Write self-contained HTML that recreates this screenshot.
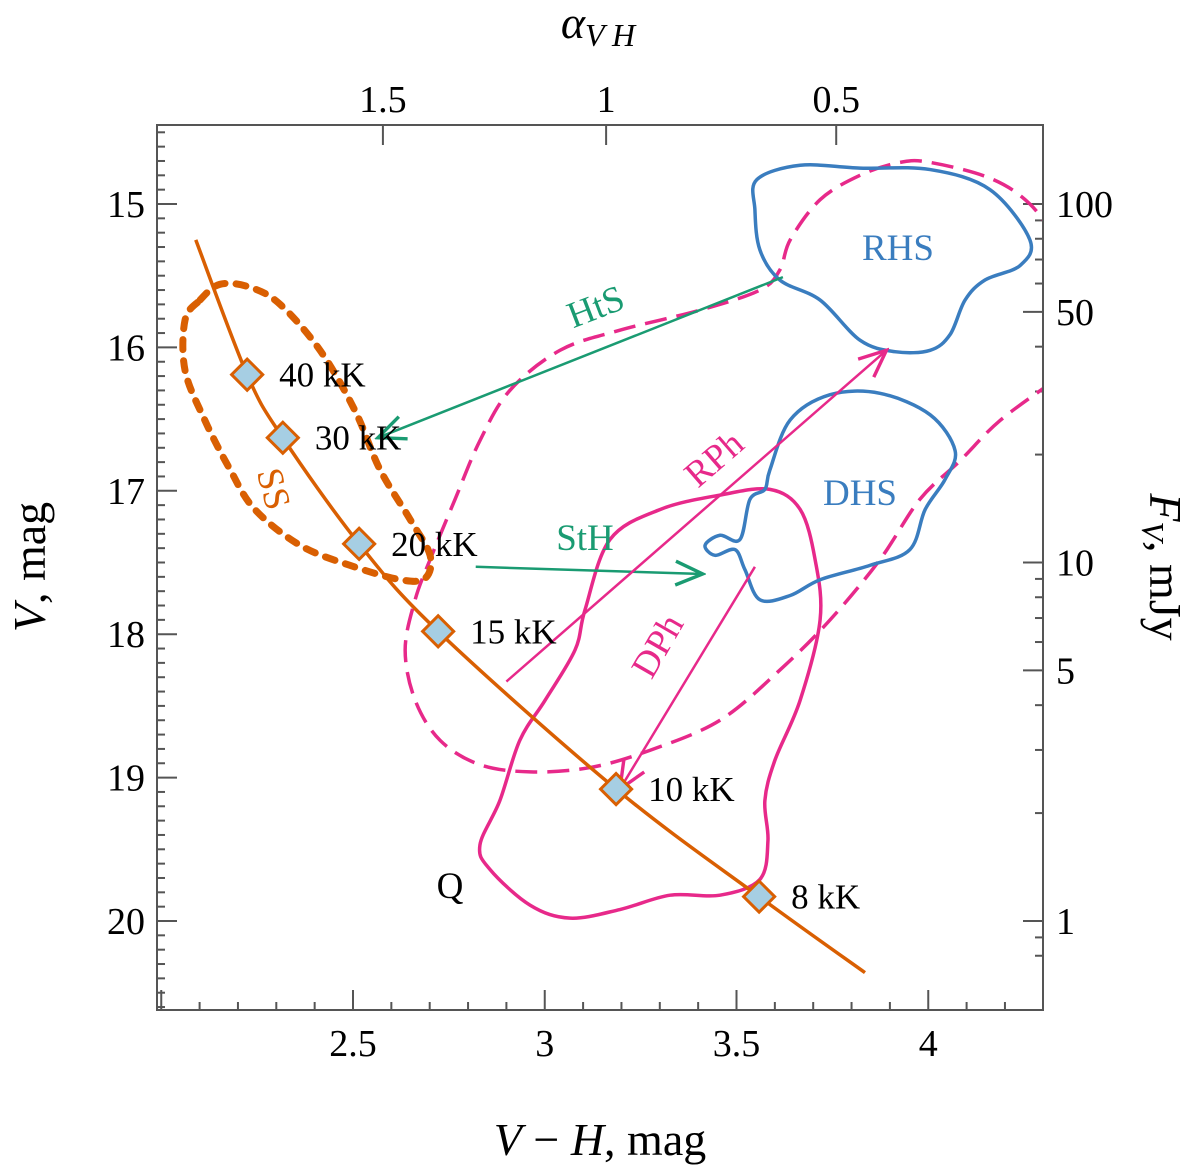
<!DOCTYPE html>
<html><head><meta charset="utf-8"><style>
html,body{margin:0;padding:0;background:#fff;}
svg{display:block;font-family:"Liberation Serif","DejaVu Serif",serif;}
</style></head><body>
<svg id="chart" width="1200" height="1167" viewBox="0 0 1200 1167">
<defs><clipPath id="pc"><rect x="157" y="125" width="886" height="885"/></clipPath>
<marker id="ag" viewBox="0 0 20 20" refX="18" refY="10" markerWidth="34" markerHeight="34" markerUnits="userSpaceOnUse" orient="auto"><path d="M2,3 L18,10 L2,17" fill="none" stroke="#1a9b72" stroke-width="2"/></marker>
<marker id="ap" viewBox="0 0 20 20" refX="18" refY="10" markerWidth="34" markerHeight="34" markerUnits="userSpaceOnUse" orient="auto"><path d="M2,3 L18,10 L2,17" fill="none" stroke="#e7298a" stroke-width="2"/></marker>
</defs>
<g id="ticks"></g>
<g id="marks" clip-path="url(#pc)"></g>
<g id="labels"></g>
<rect x="157" y="125" width="886" height="885" fill="none" stroke="#555" stroke-width="2"/>
<text x="600" y="1155" font-size="46" text-anchor="middle"><tspan font-style="italic">V</tspan> − <tspan font-style="italic">H</tspan>, mag</text>
<text x="598" y="38" font-size="46" text-anchor="middle" font-style="italic">α<tspan font-size="32" dy="8">V H</tspan></text>
<text transform="translate(45,567) rotate(-90)" font-size="46" text-anchor="middle"><tspan font-style="italic">V</tspan>, mag</text>
<text transform="translate(1150,567) rotate(90)" font-size="46" text-anchor="middle"><tspan font-style="italic">F</tspan><tspan font-size="32" dy="8" font-style="italic">V</tspan><tspan dy="-8">, mJy</tspan></text>
</svg>
<script>
const xTicks=[2.5,3,3.5,4];
const yTicks=[15,16,17,18,19,20];
const topTicks=[1.5,1,0.5];
const topTickVH=[2.578,3.160,3.760];
const rightTicks=[100,50,10,5,1];
const trackVH=[2.09,2.224,2.317,2.516,2.722,3.186,3.559,3.835];
const trackV=[15.25,16.19,16.63,17.37,17.98,19.08,19.83,20.36];
const tempVH=[2.224,2.317,2.516,2.722,3.186,3.559];
const tempV=[16.19,16.63,17.37,17.98,19.08,19.83];
const tempLabels=["40 kK","30 kK","20 kK","15 kK","10 kK","8 kK"];
const rhsVH=[3.553,3.666,3.822,4.005,4.161,4.265,4.239,4.148,4.096,4.057,4.005,3.913,3.822,3.718,3.613,3.561,3.548];
const rhsV=[14.83,14.73,14.75,14.76,14.90,15.25,15.43,15.53,15.67,15.91,16.02,16.03,15.95,15.67,15.53,15.32,15.04];
const dhsVH=[3.587,3.640,3.744,3.874,4.005,4.070,4.044,3.992,3.952,3.848,3.718,3.640,3.561,3.522,3.496,3.444,3.418,3.457,3.509,3.535,3.574];
const dhsV=[16.855,16.506,16.33,16.32,16.47,16.72,16.92,17.13,17.41,17.52,17.62,17.73,17.76,17.55,17.41,17.45,17.38,17.31,17.34,17.06,16.99];
const qVH=[3.170,3.301,3.457,3.587,3.666,3.705,3.718,3.666,3.600,3.574,3.582,3.561,3.457,3.327,3.196,3.066,2.962,2.857,2.831,2.883,2.935,3.001,3.079,3.105];
const qV=[17.34,17.13,17.03,16.99,17.13,17.48,17.90,18.46,18.88,19.16,19.44,19.71,19.82,19.82,19.92,19.98,19.89,19.64,19.47,19.16,18.74,18.46,18.11,17.83];
const dashVH=[4.33,4.187,4.083,3.978,3.874,3.744,3.613,3.457,3.274,3.118,2.962,2.831,2.727,2.662,2.636,2.662,2.701,2.766,2.831,2.909,3.040,3.196,3.405,3.561,3.613,3.640,3.718,3.822,3.926,4.005,4.161,4.265,4.35];
const dashV=[16.23,16.51,16.79,17.06,17.48,17.90,18.25,18.60,18.81,18.93,18.96,18.91,18.74,18.46,18.11,17.76,17.48,17.06,16.65,16.30,16.02,15.88,15.74,15.60,15.46,15.25,14.97,14.80,14.71,14.71,14.82,15.0,15.3];
const ssVH=[2.101,2.153,2.231,2.310,2.414,2.505,2.570,2.649,2.701,2.688,2.623,2.492,2.362,2.244,2.179,2.114,2.062,2.062];
const ssV=[15.67,15.56,15.58,15.70,16.02,16.44,16.85,17.20,17.45,17.61,17.62,17.52,17.38,17.13,16.85,16.51,16.16,15.81];
const xs=v=>353+(v-2.5)*383.5;
const ys=v=>204+(v-15)*143.4;
const yF=f=>204+(-2.5*Math.log10(f/100))*143.4;
const NS="http://www.w3.org/2000/svg";
function mk(tag,attrs,parent){const e=document.createElementNS(NS,tag);for(const k in attrs)e.setAttribute(k,attrs[k]);parent.appendChild(e);return e;}
function smooth(X,Y,closed){const p=X.map((x,i)=>[xs(x),ys(Y[i])]);const n=p.length;let d="M"+p[0][0]+","+p[0][1];const g=i=>closed?p[(i+n)%n]:p[Math.max(0,Math.min(n-1,i))];const m=closed?n:n-1;for(let i=0;i<m;i++){const p0=g(i-1),p1=g(i),p2=g(i+1),p3=g(i+2);d+=" C"+(p1[0]+(p2[0]-p0[0])/6)+","+(p1[1]+(p2[1]-p0[1])/6)+" "+(p2[0]-(p3[0]-p1[0])/6)+","+(p2[1]-(p3[1]-p1[1])/6)+" "+p2[0]+","+p2[1];}return d+(closed?"Z":"");}
const T=document.getElementById('ticks'),M=document.getElementById('marks'),L=document.getElementById('labels');
const tk="#555";
for(let i=20;i<=43;i++){const v=i/10,x=xs(v);if(x<157||x>1043)continue;const maj=i%5==0;
 let t=mk('line',{x1:x,x2:x,y1:1010,y2:maj?990:1002,stroke:tk,'stroke-width':2},T);
 
 }
xTicks.forEach(v=>{let t=mk('text',{x:xs(v),y:1056,'font-size':38,'text-anchor':'middle'},L);t.textContent=String(v);
 
 });
for(let i=145;i<=206;i++){const v=i/10,y=ys(v);if(y<125||y>1010)continue;const maj=i%10==0;
 let t=mk('line',{x1:157,x2:maj?177:165,y1:y,y2:y,stroke:tk,'stroke-width':2},T);
 
 }
yTicks.forEach(v=>{let t=mk('text',{x:145,y:ys(v)+13,'font-size':38,'text-anchor':'end'},L);t.textContent=String(v);
 
 });
topTicks.forEach((a,i)=>{const x=xs(topTickVH[i]);
 let l=mk('line',{x1:x,x2:x,y1:125,y2:145,stroke:tk,'stroke-width':2},T);
 
 
 let t=mk('text',{x:x,y:112,'font-size':38,'text-anchor':'middle'},L);t.textContent=String(a);
 
 });
[0.8,0.9,2,3,4,6,7,8,9,20,30,40,60,70,80,90,200].forEach(f=>{const y=yF(f);if(y<125||y>1010)return;
 let l=mk('line',{x1:1043,x2:1035,y1:y,y2:y,stroke:tk,'stroke-width':2},T);
 
 });
rightTicks.forEach(f=>{const y=yF(f);
 let l=mk('line',{x1:1043,x2:1023,y1:y,y2:y,stroke:tk,'stroke-width':2},T);
 
 
 let t=mk('text',{x:1056,y:y+13,'font-size':38},L);t.textContent=String(f);
 
 });
let e;
e=mk('path',{d:smooth(dashVH,dashV,false),fill:'none',stroke:'#e7298a','stroke-width':3.5,'stroke-dasharray':'22,10'},M);


e=mk('path',{d:smooth(qVH,qV,true),fill:'none',stroke:'#e7298a','stroke-width':3.5},M);


e=mk('path',{d:smooth(rhsVH,rhsV,true),fill:'none',stroke:'#3a7dbf','stroke-width':3.5},M);


e=mk('path',{d:smooth(dhsVH,dhsV,true),fill:'none',stroke:'#3a7dbf','stroke-width':3.5},M);


e=mk('path',{d:smooth(ssVH,ssV,true),fill:'none',stroke:'#d95f02','stroke-width':7,'stroke-dasharray':'10,11','stroke-linecap':'round'},M);


e=mk('path',{d:smooth(trackVH,trackV,false),fill:'none',stroke:'#d95f02','stroke-width':3.5},M);


function arrow(x1,y1,x2,y2,c,m,name){let a=mk('line',{x1:xs(x1),y1:ys(y1),x2:xs(x2),y2:ys(y2),stroke:c,'stroke-width':2.5,'marker-end':'url(#'+m+')'},M);
 
 }
arrow(3.621,15.51,2.565,16.63,'#1a9b72','ag','hts-arrow');
arrow(2.82,17.53,3.412,17.58,'#1a9b72','ag','sth-arrow');
arrow(2.90,18.33,3.891,16.02,'#e7298a','ap','rph-arrow');
arrow(3.548,17.53,3.196,19.08,'#e7298a','ap','dph-arrow');
tempVH.forEach((v,i)=>{const x=xs(v),y=ys(tempV[i]);
 let r=mk('rect',{x:x-11,y:y-11,width:22,height:22,fill:'#a6cee3',stroke:'#d95f02','stroke-width':3,transform:'rotate(45 '+x+' '+y+')'},M);
 
 
 let t=mk('text',{x:x+32,y:y+12,'font-size':35},L);t.textContent=tempLabels[i];
 
 });
function lab(txt,x,y,c,rot,name){let t=mk('text',{x:x,y:y,'font-size':37,fill:c,'text-anchor':'middle',transform:'rotate('+rot+' '+x+' '+y+')'},L);t.textContent=txt;
 
 }
lab('HtS',600,318,'#1a9b72',-21,'hts-label');
lab('StH',585,550,'#1a9b72',0,'sth-label');
lab('RPh',722,468,'#e7298a',-41,'rph-label');
lab('DPh',668,652,'#e7298a',-60,'dph-label');
lab('SS',262,492,'#d95f02',75,'ss-label');
lab('RHS',898,260,'#3a7dbf',0,'rhs-label');
lab('DHS',860,505,'#3a7dbf',0,'dhs-label');
lab('Q',450,898,'#000',0,'q-label');
</script>
</body></html>
